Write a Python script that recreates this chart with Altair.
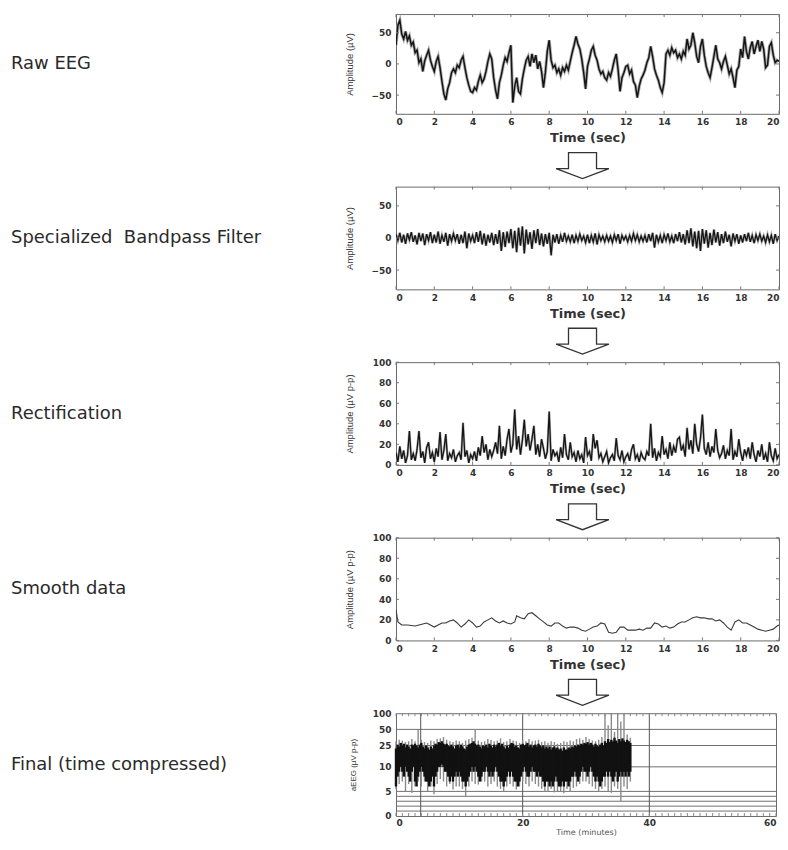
import altair as alt
import pandas as pd
import math

# ---------------- data ----------------
# Raw EEG, sampled every 0.1 s from 0 to 20 s (uV)
raw_uv = [
    30, 62, 70, 48, 40, 52, 38, 45, 30, 35,
    18, 22, 2, 8, -12, 5, 14, 22, 6, -4,
    -12, 4, 12, -6, -28, -48, -58, -40, -30, -14,
    -8, -14, -2, -6, 6, 12, -6, -22, -34, -44,
    -46, -38, -42, -28, -18, -30, -24, -12, 4, 16,
    8, -22, -42, -56, -30, -18, -2, 10, 4, 18,
    30, -62, -36, -22, -44, -48, -24, -8, 6, 12,
    -4, 16, 2, 14, -8, 4, -12, -38, -14, 20,
    38, 6, -6, -2, -14, -8, -18, -6, -12, -2,
    -10, 4, 18, 30, 44, 32, 24, 8, -14, -40,
    -4, 8, 22, 28, 14, 6, -8, -16, -12, -22,
    -26, -14, -20, -8, 6, 16, -10, -44, -22, -14,
    -4, -2, -16, -10, -28, -34, -54, -36, -24, -18,
    -10, 2, 10, 28, 12, -8, -18, -26, -38, -46,
    -30, 16, 22, 14, 26, 18, 22, 10, 16, 8,
    20, 14, 40, 24, 30, 50, 34, 12, 2, 28,
    40, 14, -4, -14, -22, -6, 12, 30, 8, 2,
    -8, 4, 12, -2, -16, -8, -22, -38, -10, -4,
    24, 10, 44, 20, 8, 26, 36, 16, 28, 38,
    20, 36, 24, -6, -2, 28, 34, 14, 2, 6,
    4,
]

# Bandpass-filtered EEG, every 0.1 s (uV)
bp_uv = [
    6, -4, 8, -7, 5, -9, 7, -3, 9, -6,
    4, -10, 8, -5, 7, -11, 6, -4, 9, -8,
    5, -7, 10, -9, 4, -6, 8, -12, 6, -5,
    7, -4, 6, -9, 5, -8, 10, -16, 7, -5,
    4, -8, 9, -6, 11, -10, 7, -12, 5, -7,
    8, -11, 6, -9, 12, -20, 9, -14, 10, -8,
    14, -16, 11, -22, 16, -12, 18, -24, 13, -10,
    9, -17, 12, -8, 14, -11, 7, -13, 6, -9,
    8, -27, 5, -7, 6, -9, 4, -6, 8, -5,
    3, -6, 5, -8, 4, -5, 6, -4, 3, -7,
    5, -8, 4, -6, 7, -10, 5, -4, 3, -6,
    4, -5, 3, -7, 5, -4, 6, -9, 4, -3,
    3, -6, 4, -5, 7, -4, 5, -6, 3, -5,
    4, -7, 6, -5, 8, -15, 5, -6, 4, -8,
    5, -4, 7, -6, 3, -8, 6, -5, 9, -7,
    6, -10, 12, -8, 15, -13, 10, -16, 11, -20,
    14, -9, 12, -15, 8, -11, 13, -7, 9, -12,
    6, -8, 10, -6, 5, -13, 7, -5, 6, -9,
    4, -7, 6, -5, 8, -6, 4, -8, 5, -4,
    6, -5, 3, -7, 5, -6, 4, -9, 6, -4,
    3,
]

# Rectified amplitude, every 0.1 s (uV p-p)
rect_uv = [
    12, 3, 18, 6, 14, 2, 9, 33, 5, 11,
    4, 15, 33, 7, 13, 2, 17, 22, 6, 12,
    3, 16, 8, 32, 5, 14, 30, 4, 11, 7,
    15, 3, 9, 12, 5, 41, 8, 14, 2, 10,
    6, 13, 4, 17, 9, 28, 12, 20, 5, 15,
    8, 14, 22, 11, 38, 6, 18, 9, 25, 35,
    12, 20, 54, 15, 28, 10, 24, 44, 18, 30,
    14, 25, 38, 10, 20, 8, 25, 16, 6, 13,
    52, 4, 15, 9, 12, 3, 17, 7, 30, 10,
    5, 22, 8, 12, 3, 14, 6, 10, 2, 27,
    9, 13, 4, 30, 16, 24, 7, 11, 3, 8,
    13, 2, 7, 10, 4, 26, 9, 5, 14, 3,
    8, 11, 4, 15, 20, 6, 10, 3, 12, 7,
    5, 13, 9, 40, 7, 16, 4, 12, 8, 28,
    10, 15, 6, 22, 9, 18, 12, 25, 27, 14,
    19, 8, 36, 15, 24, 11, 40, 20, 13, 26,
    49, 16, 10, 22, 8, 18, 12, 35, 14, 7,
    11, 19, 6, 14, 9, 35, 5, 13, 8, 25,
    12, 4, 15, 9, 17, 6, 22, 10, 3, 14,
    8, 20, 5, 11, 3, 22, 9, 4, 16, 6,
    10,
]
sec_t = [round(i * 0.1, 1) for i in range(len(raw_uv))]

# Smoothed amplitude (uV p-p)
smooth_t = [0, 0.1, 0.3, 0.6, 1.0, 1.4, 1.6, 1.8, 2.0, 2.2, 2.4, 2.6, 2.8, 3.0,
            3.2, 3.4, 3.6, 3.8, 4.0, 4.2, 4.4, 4.6, 4.8, 5.0, 5.2, 5.4, 5.6, 5.8,
            6.0, 6.2, 6.3, 6.5, 6.7, 6.9, 7.1, 7.3, 7.5, 7.7, 7.9, 8.1, 8.3, 8.5,
            8.7, 8.9, 9.1, 9.3, 9.5, 9.7, 9.9, 10.1, 10.3, 10.5, 10.7, 10.9, 11.1,
            11.3, 11.5, 11.7, 11.9, 12.1, 12.3, 12.5, 12.7, 12.9, 13.1, 13.3, 13.5,
            13.7, 13.9, 14.1, 14.3, 14.5, 14.7, 14.9, 15.1, 15.3, 15.5, 15.7, 15.9,
            16.1, 16.3, 16.5, 16.7, 16.9, 17.1, 17.3, 17.5, 17.7, 17.9, 18.1, 18.3,
            18.5, 18.7, 18.9, 19.1, 19.3, 19.5, 19.7, 19.9, 20.0]
smooth_uv = [30, 18, 15, 15, 14, 16, 17, 15, 13, 15, 17, 17, 19, 20,
             17, 13, 16, 20, 17, 13, 14, 18, 20, 22, 19, 17, 19, 17,
             16, 18, 24, 22, 21, 26, 27, 24, 21, 18, 15, 14, 17, 17,
             14, 12, 13, 13, 12, 10, 9, 11, 13, 14, 17, 16, 8,
             7, 8, 13, 13, 10, 10, 10, 11, 10, 12, 12, 17,
             16, 13, 14, 12, 13, 16, 18, 18, 20, 22, 23, 22,
             22, 21, 21, 19, 20, 17, 13, 10, 18, 20, 17, 17,
             15, 13, 11, 10, 9, 10, 11, 14, 15]

# Final aEEG band, every 0.25 min from 0 to 37 min (uV p-p)
core_lo = [
    6, 8, 9, 10,  9, 8, 10, 9,  8, 7, 9, 10,  7, 6, 8, 9,  10, 9, 8, 7,
    7, 6, 7, 8,  6, 8, 9, 10,  10, 11, 10, 9,  9, 8, 7, 8,  7, 8, 9, 8,
    9, 8, 7, 7,  6, 7, 8, 9,  10, 9, 10, 9,  8, 7, 8, 9,  9, 10, 9, 8,
    9, 8, 9, 10,  9, 8, 7, 7,  6, 7, 8, 9,  8, 9, 8, 7,  7, 6, 7, 8,
    9, 10, 9, 8,  8, 9, 10, 9,  9, 8, 9, 8,  8, 7, 6, 7,  7, 6, 7, 6,
    7, 8, 7, 6,  6, 7, 6, 7,  7, 6, 7, 8,  8, 9, 8, 7,  8, 9, 10, 9,
    9, 8, 9, 10,  9, 8, 7, 8,  7, 6, 7, 8,  8, 9, 8, 9,  8, 7, 8, 9,
    7, 8, 9, 8,  9, 8, 9, 8,  9,
]
core_hi = [
    22, 26, 24, 28,  25, 27, 23, 26,  24, 22, 26, 25,  27, 25, 23, 26,  28, 24, 22, 25,
    23, 21, 24, 22,  25, 27, 26, 29,  28, 30, 27, 26,  27, 25, 24, 26,  24, 22, 25, 26,
    23, 26, 24, 22,  21, 24, 26, 27,  28, 30, 27, 25,  26, 24, 22, 25,  24, 26, 23, 27,
    25, 23, 26, 24,  26, 28, 25, 27,  24, 22, 25, 23,  26, 28, 27, 24,  25, 23, 22, 26,
    27, 25, 26, 28,  24, 26, 23, 25,  26, 24, 27, 25,  23, 25, 22, 24,  22, 24, 21, 23,
    24, 22, 23, 21,  22, 20, 23, 21,  21, 23, 22, 24,  23, 25, 24, 26,  25, 27, 26, 28,
    27, 29, 26, 28,  26, 24, 27, 25,  24, 26, 28, 25,  30, 28, 33, 29,  32, 30, 35, 31,
    28, 33, 30, 34,  31, 29, 32, 30,  28,
]
band_t = [i * 0.25 for i in range(len(core_lo))]

# Outer excursions, every 0.5 min (uV p-p)
ext_lo = [5.5, 6.5, 7, 5, 6.5, 4.7, 6, 7, 6, 7, 5, 6, 4.4, 6.5, 7.5, 7, 6, 6.5,
          5.4, 6, 6, 5.5, 4, 6, 7, 6.5, 6.4, 7, 7, 6, 6.5, 7, 6, 5.5, 5, 6,
          6.5, 6, 5.4, 6, 7, 6.5, 6, 7, 6.5, 6, 5.5, 5, 5, 5.5, 4.8, 5, 5, 4.6,
          5.5, 5, 5.7, 6, 6.5, 7, 7, 6.5, 6, 5.5, 4.9, 5.5, 6, 5, 4.7, 6,
          5.5, 3, 6, 5.5, 7]
ext_hi = [30, 32, 31, 29, 30, 33, 30, 50, 32, 29, 28, 31, 30, 33, 34, 36, 32, 30,
          29, 31, 30, 28, 31, 33, 35, 50, 31, 29, 30, 33, 32, 30, 31, 34, 29, 30,
          33, 31, 30, 28, 32, 30, 33, 30, 31, 32, 29, 30, 28, 30, 29, 27, 28, 30,
          29, 31, 30, 33, 34, 32, 36, 33, 31, 30, 32, 36, 100, 60, 100, 45,
          100, 70, 100, 40, 35]
ext_t = [i * 0.5 for i in range(len(ext_lo))]
marker_min = [3.9]

# axes / labels
sec_ticks = list(range(0, 21, 2))
eeg_ticks = [-50, 0, 50]
amp_ticks = [0, 20, 40, 60, 80, 100]
min_ticks = [0, 20, 40, 60]
min_grid = [20, 40]
aeeg_labels = [0, 5, 10, 25, 50, 100]
aeeg_grid = [1, 2, 3, 4, 5, 10, 25, 50]

step_names = ["Raw EEG", "Specialized\u00a0 Bandpass Filter", "Rectification",
              "Smooth data", "Final (time compressed)"]

# ---------------- style ----------------
W = 384
TXT = "#333333"
LABEL_FONT = "Liberation Sans"
K = 1.09  # relative height of one decade vs the 0-10 linear part


def f(v):
    return v / 10 if v <= 10 else 1 + K * math.log10(v / 10)


ARROW = "M-0.53,-0.49 L0.53,-0.49 L0.53,0.11 L1,0.11 L0,0.49 L-1,0.11 L-0.53,0.11 Z"


def x_axis(values, title, title_size=13, title_y=24, title_weight="bold", title_color=TXT):
    return alt.Axis(values=values, title=title, labelFlush=True, labelOverlap=False,
                    ticks=False, grid=False, domain=False, labelPadding=4,
                    labelFont="DejaVu Sans", labelFontSize=9, labelFontWeight="bold",
                    labelColor=TXT, titleFont="DejaVu Sans", titleFontSize=title_size,
                    titleFontWeight=title_weight, titleColor=title_color, titleY=title_y,
                    titleBaseline="middle")


def y_axis(values, title, h, title_x=-47, title_size=9.5):
    return alt.Axis(values=values, title=title, labelFlush=False, labelOverlap=False,
                    ticks=False, grid=False, domain=False, labelPadding=5,
                    labelFont="DejaVu Sans", labelFontSize=9, labelFontWeight="bold",
                    labelColor=TXT, titleFont=LABEL_FONT, titleFontSize=title_size,
                    titleFontWeight="normal", titleColor=TXT, titleX=title_x, titleY=h / 2,
                    titleAngle=-90, titleAlign="center", titleBaseline="middle")


def step_label(name, h):
    return alt.Chart(pd.DataFrame({"name": [name]})).mark_text(
        align="left", baseline="middle", font="DejaVu Sans", fontSize=18, color="#2a2a2a"
    ).encode(text="name:N", x=alt.value(-386), y=alt.value(h / 2))


def arrow(h):
    return alt.Chart(pd.DataFrame({"a": [0]})).mark_point(
        shape=ARROW, filled=False, color=TXT, strokeWidth=1.3, size=2809, opacity=1
    ).encode(x=alt.value(187), y=alt.value(h + 52))


def inner_ticks(h, w, xvals, yvals, xsc, ysc, xax, yax, color="#777"):
    xs = pd.DataFrame({"v": xvals})
    st = dict(color=color, strokeWidth=1)
    out = [
        alt.Chart(xs).mark_rule(**st).encode(x=alt.X("v:Q", scale=xsc, axis=xax),
                                             y=alt.value(0), y2=alt.value(3)),
        alt.Chart(xs).mark_rule(**st).encode(x=alt.X("v:Q", scale=xsc, axis=xax),
                                             y=alt.value(h - 3), y2=alt.value(h)),
    ]
    if yvals:
        ys = pd.DataFrame({"v": yvals})
        out += [
            alt.Chart(ys).mark_rule(**st).encode(y=alt.Y("v:Q", scale=ysc, axis=yax),
                                                 x=alt.value(0), x2=alt.value(3)),
            alt.Chart(ys).mark_rule(**st).encode(y=alt.Y("v:Q", scale=ysc, axis=yax),
                                                 x=alt.value(w - 3), x2=alt.value(w)),
        ]
    return out


def sec_panel(t, v, h, ydom, yvals, ytitle, name, color, sw, halo, with_arrow=True):
    df = pd.DataFrame({"t": t, "v": v})
    xsc = alt.Scale(domain=[0, 20], nice=False, zero=False)
    ysc = alt.Scale(domain=ydom, nice=False, zero=False)
    xax = x_axis(sec_ticks, "Time (sec)")
    yax = y_axis(yvals, ytitle, h)
    enc = dict(x=alt.X("t:Q", scale=xsc, axis=xax), y=alt.Y("v:Q", scale=ysc, axis=yax))
    layers = []
    if halo:
        layers.append(alt.Chart(df).mark_line(color="#9a9a9a", strokeWidth=halo, clip=True,
                                              opacity=0.8).encode(**enc))
    layers.append(alt.Chart(df).mark_line(color=color, strokeWidth=sw, clip=True).encode(**enc))
    layers += inner_ticks(h, W, sec_ticks, yvals, xsc, ysc, xax, yax) + [step_label(name, h)]
    if with_arrow:
        layers.append(arrow(h))
    return alt.layer(*layers).properties(width=W, height=h)


p1 = sec_panel(sec_t, raw_uv, 100, [-80, 80], eeg_ticks, "Amplitude (\u00b5V)",
               step_names[0], "#151515", 1.5, 3.2)
p2 = sec_panel(sec_t, bp_uv, 103, [-80, 80], eeg_ticks, "Amplitude (\u00b5V)",
               step_names[1], "#151515", 1.3, 2.6)
p3 = sec_panel(sec_t, rect_uv, 103, [0, 100], amp_ticks, "Amplitude (\u00b5V p-p)",
               step_names[2], "#151515", 1.3, 2.4)
p4 = sec_panel(smooth_t, smooth_uv, 103, [0, 100], amp_ticks, "Amplitude (\u00b5V p-p)",
               step_names[3], "#3a3a3a", 1.1, 0)

# ---------------- final panel ----------------
H5 = 103
W5 = 381
TEXPR = "datum.{c} <= 10 ? datum.{c} / 10 : 1 + %s * log(datum.{c} / 10) / LN10" % K
ytop = f(100)
xs5 = alt.Scale(domain=[0, 60], nice=False, zero=False)
ys5 = alt.Scale(domain=[0, ytop], nice=False, zero=False)

lab_pos = [f(v) for v in aeeg_labels]
lab_expr = " : ".join("abs(datum.value - %.4f) < 0.01 ? '%s'" % (p, v)
                      for p, v in zip(lab_pos, aeeg_labels)) + " : ''"

band_df = pd.DataFrame({"t": band_t, "lo": core_lo, "hi": core_hi})
ext_df = pd.DataFrame({"t": ext_t, "lo": ext_lo, "hi": ext_hi})

y5_axis = alt.Axis(values=lab_pos, labelExpr=lab_expr, title="aEEG (\u00b5V p-p)", labelFlush=False,
                   labelOverlap=False, ticks=False, grid=False, domain=False,
                   labelPadding=5, labelFont="DejaVu Sans", labelFontSize=9,
                   labelFontWeight="bold", labelColor=TXT,
                   titleFont=LABEL_FONT, titleFontSize=8, titleFontWeight="normal",
                   titleColor=TXT, titleX=-43, titleY=H5 / 2, titleAngle=-90,
                   titleAlign="center", titleBaseline="middle")
x5_axis = alt.Axis(values=min_ticks, title="Time (minutes)", labelFlush=True, labelOverlap=False,
                   ticks=False, grid=False, domain=False, labelPadding=3,
                   labelFont="DejaVu Sans", labelFontSize=9, labelFontWeight="bold",
                   labelColor=TXT, titleFont="DejaVu Sans", titleFontSize=8,
                   titleFontWeight="normal", titleColor="#555", titleY=17,
                   titleBaseline="middle")

hgrid = alt.Chart(pd.DataFrame({"g": aeeg_grid})).transform_calculate(
    yg=TEXPR.format(c="g")
).mark_rule(color="#707070", strokeWidth=1).encode(
    y=alt.Y("yg:Q", scale=ys5, axis=y5_axis), x=alt.value(0), x2=alt.value(W5)
)
vgrid = alt.Chart(pd.DataFrame({"t": min_grid + marker_min})).mark_rule(
    color="#555", strokeWidth=1
).encode(x=alt.X("t:Q", scale=xs5, axis=x5_axis), y=alt.value(0), y2=alt.value(H5))

ext = alt.Chart(ext_df).transform_calculate(
    ylo=TEXPR.format(c="lo"), yhi=TEXPR.format(c="hi")
).mark_rule(color="#8a8a8a", strokeWidth=1.4).encode(
    x=alt.X("t:Q", scale=xs5, axis=x5_axis), y=alt.Y("ylo:Q", scale=ys5, axis=y5_axis), y2="yhi:Q",
)
core = alt.Chart(band_df).transform_calculate(
    ylo=TEXPR.format(c="lo"), yhi=TEXPR.format(c="hi")
).mark_rule(color="#111111", strokeWidth=2.4).encode(
    x=alt.X("t:Q", scale=xs5, axis=x5_axis), y=alt.Y("ylo:Q", scale=ys5, axis=y5_axis), y2="yhi:Q",
)
minor_min = list(range(0, 61))
p5_layers = [hgrid, vgrid, ext, core] + \
    inner_ticks(H5, W5, minor_min, None, xs5, ys5, x5_axis, y5_axis, "#888") + \
    [step_label(step_names[4], H5)]
p5 = alt.layer(*p5_layers).properties(width=W5, height=H5)

chart = alt.vconcat(p1, p2, p3, p4, p5, spacing=73, bounds="flush").configure_view(
    stroke="#6a6a6a", strokeWidth=1
).properties(padding={"left": 2, "top": 4, "right": 0, "bottom": 0}, background="white")

chart.save("out.html", embed_options={"renderer": "svg", "actions": False})
